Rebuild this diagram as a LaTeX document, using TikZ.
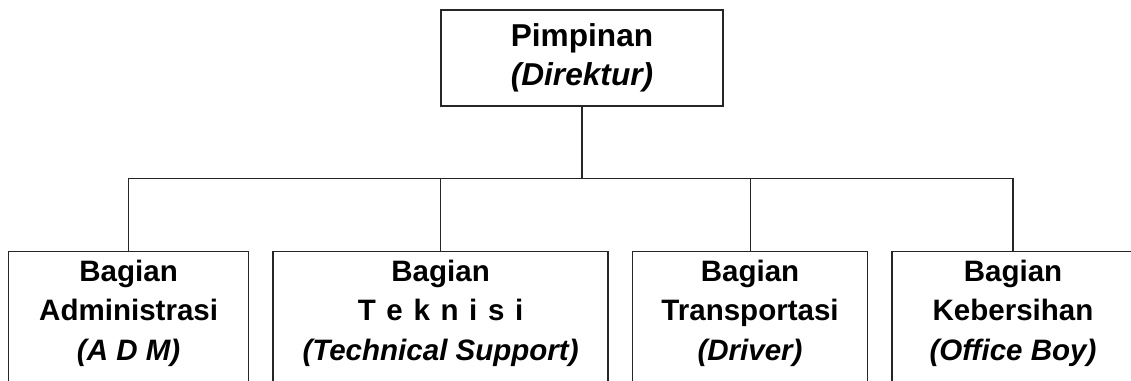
\documentclass[tikz,border=0pt]{standalone}
\usepackage{fontspec}
\setmainfont{Liberation Sans}
\usepackage{tikz}
\usetikzlibrary{positioning}

\begin{document}
\begin{tikzpicture}[node distance=5.8mm,
  every node/.style={font=\fontsize{21}{28}\selectfont\bfseries},
  kepala/.style={draw=black!85,line width=0.9pt,align=center,minimum width=7.05cm,minimum height=2.4cm,
    font=\fontsize{22.5}{27.5}\selectfont\bfseries},
  bagian/.style={draw=black!85,line width=0.9pt,align=center,inner sep=6pt,text depth=2.4cm},
  garis/.style={black!85,line width=0.8pt}]
\useasboundingbox (0,0) rectangle (28.275,-9.525);
\clip (0,0) rectangle (28.275,-9.525);
% Top: the director
\node[kepala] (pimpinan) at (14.55,-1.45) {Pimpinan\\\textit{(Direktur)}};
% Bottom row: the four sections
\node[bagian,minimum width=6cm,anchor=north west] (adm) at (0.2,-6.275) {Bagian\\Administrasi\\\textit{(A D M)}};
\node[bagian,minimum width=8.375cm,right=of adm] (teknisi) {Bagian\\T\hspace{0.36em}e\hspace{0.36em}k\hspace{0.36em}n\hspace{0.36em}i\hspace{0.36em}s\hspace{0.36em}i\\\textit{(Technical Support)}};
\node[bagian,minimum width=5.875cm,right=of teknisi] (transport) {Bagian\\Transportasi\\\textit{(Driver)}};
\node[bagian,minimum width=6.05cm,right=of transport] (bersih) {Bagian\\Kebersihan\\\textit{(Office Boy)}};
% Connectors
\coordinate[below=1.8cm of pimpinan.south] (cabang);
\draw[garis] (pimpinan.south) -- (cabang);
\foreach \b in {adm,teknisi,transport,bersih}
  \draw[garis] (\b.north) |- (cabang);
\end{tikzpicture}
\end{document}
